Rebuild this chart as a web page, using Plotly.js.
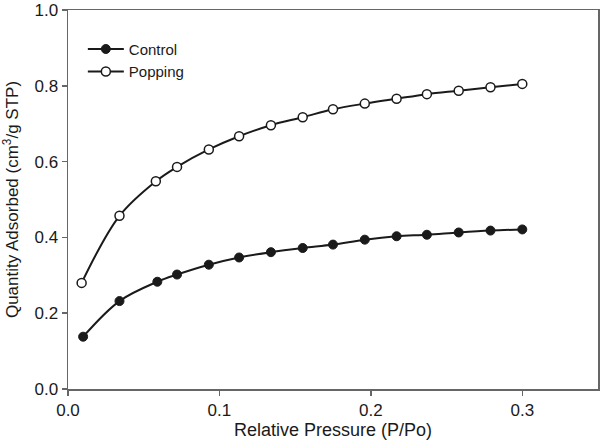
<!DOCTYPE html>
<html>
<head>
<meta charset="utf-8">
<script src="https://cdn.plot.ly/plotly-3.0.1.min.js"></script>
<style>html,body{margin:0;padding:0;background:#fff;}#chart{width:600px;height:440px;}</style>
</head>
<body>
<div id="chart"></div>
<script>
var pressure = [0.010, 0.034, 0.059, 0.072, 0.093, 0.113, 0.134, 0.155, 0.175, 0.196, 0.217, 0.237, 0.258, 0.279, 0.300];
var pressurePopping = [0.009, 0.034, 0.058, 0.072, 0.093, 0.113, 0.134, 0.155, 0.175, 0.196, 0.217, 0.237, 0.258, 0.279, 0.300];
var control = [0.138, 0.232, 0.283, 0.302, 0.328, 0.347, 0.361, 0.372, 0.381, 0.394, 0.403, 0.407, 0.413, 0.418, 0.421];
var popping = [0.280, 0.457, 0.548, 0.586, 0.632, 0.667, 0.696, 0.717, 0.738, 0.753, 0.766, 0.778, 0.787, 0.796, 0.805];
var seriesNames = ["Control", "Popping"];
var xTicks = [0.0, 0.1, 0.2, 0.3];
var xTickText = ["0.0", "0.1", "0.2", "0.3"];
var yTicks = [0.0, 0.2, 0.4, 0.6, 0.8, 1.0];
var yTickText = ["0.0", "0.2", "0.4", "0.6", "0.8", "1.0"];

var font = "Liberation Sans, Arial, sans-serif";
var ink = "#1a1a1a";
var traces = [
  {x: pressure, y: control, name: seriesNames[0], mode: "lines+markers",
   line: {color: ink, width: 2, shape: "spline", smoothing: 1},
   marker: {symbol: "circle", size: 9, color: ink, line: {color: ink, width: 1}}},
  {x: pressurePopping, y: popping, name: seriesNames[1], mode: "lines+markers",
   line: {color: ink, width: 2, shape: "spline", smoothing: 1},
   marker: {symbol: "circle", size: 9, color: "#ffffff", line: {color: ink, width: 1.5}}}
];
var layout = {
  width: 600, height: 440,
  margin: {l: 68, r: 2, t: 10, b: 51},
  paper_bgcolor: "#fff", plot_bgcolor: "#fff",
  font: {family: font, size: 17, color: ink},
  showlegend: true,
  legend: {x: 0.028, y: 0.94, xanchor: "left", yanchor: "top", bgcolor: "rgba(0,0,0,0)",
           font: {family: font, size: 15, color: ink}, tracegroupgap: 0, itemwidth: 36},
  xaxis: {range: [0, 0.35], tickvals: xTicks, ticktext: xTickText, showgrid: false, zeroline: false,
          showline: true, mirror: true, linecolor: "#666", linewidth: 1.5,
          ticks: "outside", ticklen: 5, tickwidth: 1.5, tickcolor: "#666",
          tickfont: {family: font, size: 17, color: ink},
          title: {text: "Relative Pressure (P/Po)", font: {family: font, size: 18, color: ink}, standoff: 4}},
  yaxis: {range: [0, 1.0], tickvals: yTicks, ticktext: yTickText, showgrid: false, zeroline: false,
          showline: true, mirror: true, linecolor: "#666", linewidth: 1.5,
          ticks: "outside", ticklen: 5, tickwidth: 1.5, tickcolor: "#666", ticklabeloverflow: "allow",
          tickfont: {family: font, size: 17, color: ink},
          title: {text: "Quantity Adsorbed (cm<sup>3</sup>/g STP)", font: {family: font, size: 17, color: ink}, standoff: 11}}
};
Plotly.newPlot("chart", traces, layout, {displayModeBar: false, staticPlot: true});
</script>
</body>
</html>
